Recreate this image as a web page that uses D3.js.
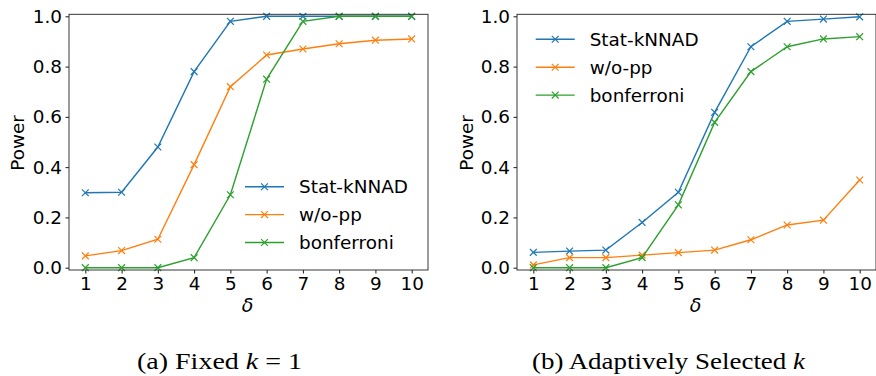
<!DOCTYPE html>
<html>
<head>
<meta charset="utf-8">
<script src="https://cdn.jsdelivr.net/npm/d3@7"></script>
<style>
  html, body { margin: 0; padding: 0; background: #fff; }
  svg { display: block; }
</style>
</head>
<body>
<svg id="chart" width="876" height="376"></svg>
<script>
// data
const deltas = [1, 2, 3, 4, 5, 6, 7, 8, 9, 10];
const seriesNames = ['Stat-kNNAD', 'w/o-pp', 'bonferroni'];
const yTicks = [0, 0.2, 0.4, 0.6, 0.8, 1.0];

// (a) Fixed k = 1
const fixedStat = [0.298, 0.30, 0.48, 0.78, 0.98, 1.0, 1.0, 1.0, 1.0, 1.0];
const fixedWopp = [0.047, 0.068, 0.113, 0.41, 0.72, 0.846, 0.87, 0.891, 0.905, 0.91];
const fixedBonf = [0, 0, 0, 0.04, 0.29, 0.75, 0.98, 1.0, 1.0, 1.0];

// (b) Adaptively selected k
const adaptStat = [0.061, 0.066, 0.07, 0.18, 0.30, 0.618, 0.879, 0.98, 0.989, 0.998];
const adaptWopp = [0.011, 0.04, 0.04, 0.05, 0.06, 0.07, 0.111, 0.17, 0.189, 0.349];
const adaptBonf = [0, 0, 0, 0.04, 0.25, 0.578, 0.78, 0.879, 0.91, 0.919];

const colors = ['#1f77b4', '#ff7f0e', '#2ca02c'];
const FONT = 'DejaVu Sans';
const FS = '18.4px';

const svg = d3.select('#chart');

// cross marker like matplotlib 'x'
function cross(g, x, y, color) {
  const s = 3.4;
  g.append('path')
    .attr('d', `M${x - s},${y - s}L${x + s},${y + s}M${x - s},${y + s}L${x + s},${y - s}`)
    .attr('stroke', color)
    .attr('stroke-width', 1.2)
    .attr('fill', 'none');
}

function drawPanel(opts) {
  const { left, top, width, height, series, legendPos, caption } = opts;
  const g = svg.append('g').attr('transform', `translate(${left},${top})`);

  const x = d3.scaleLinear().domain([0.55, 10.45]).range([0, width]);
  const y = d3.scaleLinear().domain([-0.0092, 1.008]).range([height, 0]);

  // y axis
  const yAxis = d3.axisLeft(y).tickValues(yTicks).tickFormat(d3.format('.1f'))
    .tickSize(3.5).tickPadding(3.5);
  const gy = g.append('g').call(yAxis);
  // x axis
  const xAxis = d3.axisBottom(x).tickValues(deltas).tickFormat(d3.format('d'))
    .tickSize(3.5).tickPadding(3.5);
  const gx = g.append('g').attr('transform', `translate(0,${height})`).call(xAxis);

  [gx, gy].forEach((ax) => {
    ax.select('.domain').remove();
    ax.attr('font-family', null).attr('font-size', null);
    ax.selectAll('.tick line').attr('stroke', '#000').attr('stroke-width', 0.9);
    ax.selectAll('.tick text').attr('fill', '#000')
      .style('font-family', FONT).style('font-size', FS);
  });

  // series
  const line = d3.line().x((d, i) => x(deltas[i])).y((d) => y(d));
  series.forEach((vals, k) => {
    g.append('path').datum(vals)
      .attr('d', line)
      .attr('fill', 'none')
      .attr('stroke', colors[k])
      .attr('stroke-width', 1.4);
    const mg = g.append('g');
    vals.forEach((v, i) => cross(mg, x(deltas[i]), y(v), colors[k]));
  });

  // frame
  g.append('rect').attr('x', 0).attr('y', 0).attr('width', width).attr('height', height)
    .attr('fill', 'none').attr('stroke', '#222').attr('stroke-width', 0.9);

  // axis labels
  g.append('text')
    .attr('transform', `translate(${opts.ylabelX - left},${143 - top}) rotate(-90)`)
    .attr('text-anchor', 'middle').attr('dy', '0.35em')
    .style('font-family', FONT).style('font-size', FS)
    .text('Power');
  g.append('text')
    .attr('x', width / 2 - 1).attr('y', 312 - top)
    .attr('text-anchor', 'middle')
    .style('font-family', FONT).style('font-size', '19px').style('font-style', 'italic')
    .text('δ');

  // legend
  const lg = svg.append('g').attr('transform', `translate(${legendPos[0]},${legendPos[1]})`);
  seriesNames.forEach((name, k) => {
    const ry = k * 27.9;
    lg.append('line').attr('x1', 0).attr('x2', 39).attr('y1', ry).attr('y2', ry)
      .attr('stroke', colors[k]).attr('stroke-width', 1.4);
    cross(lg, 19.5, ry, colors[k]);
    lg.append('text').attr('x', 54).attr('y', ry).attr('dy', '0.36em')
      .style('font-family', FONT).style('font-size', FS)
      .text(name);
  });

  // caption
  const cap = svg.append('text')
    .attr('x', caption.x).attr('y', 369)
    .attr('textLength', caption.len).attr('lengthAdjust', 'spacingAndGlyphs')
    .style('font-family', '"Liberation Serif", "DejaVu Serif", serif')
    .style('font-size', '23px');
  cap.append('tspan').text(caption.before);
  cap.append('tspan').style('font-style', 'italic').text('k');
  if (caption.after) cap.append('tspan').text(caption.after);
}

drawPanel({
  left: 69, top: 14.3, width: 359, height: 255.7,
  series: [fixedStat, fixedWopp, fixedBonf],
  legendPos: [245, 186.7],
  ylabelX: 18,
  caption: { x: 137, len: 165, before: '(a) Fixed ', after: ' = 1' }
});

drawPanel({
  left: 517, top: 14.3, width: 359, height: 255.7,
  series: [adaptStat, adaptWopp, adaptBonf],
  legendPos: [535.7, 39.3],
  ylabelX: 467,
  caption: { x: 532, len: 273, before: '(b) Adaptively Selected ', after: '' }
});
</script>
</body>
</html>
